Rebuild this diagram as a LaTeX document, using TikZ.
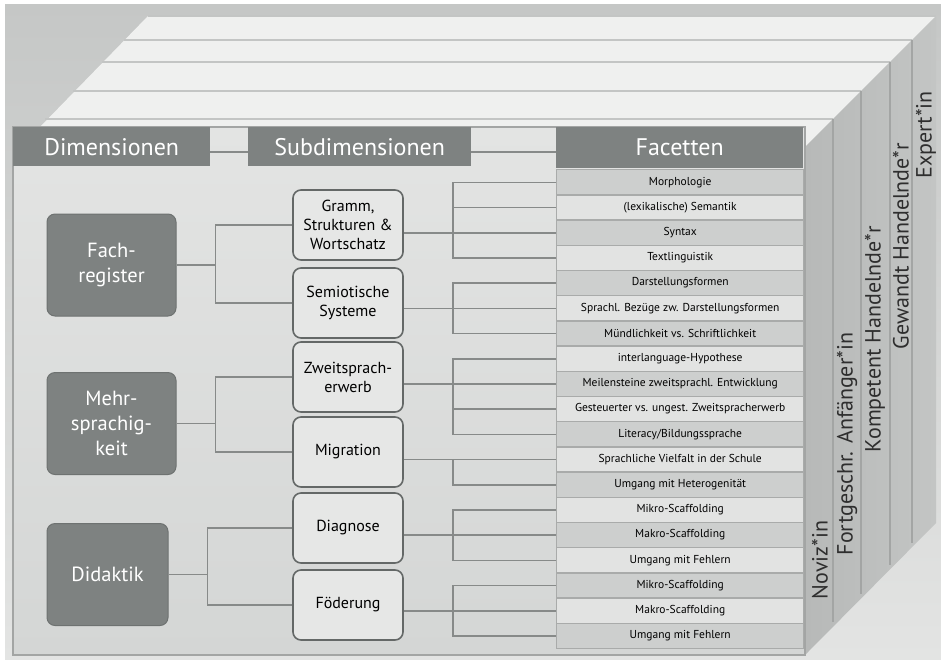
\documentclass[tikz,border=0pt]{standalone}
\usepackage{fontspec}
\setmainfont{PT Sans}
\usetikzlibrary{positioning,calc}

\definecolor{bgtop}{HTML}{C5C7C6}
\definecolor{bgbot}{HTML}{E3E4E3}
\definecolor{topface}{HTML}{EFF0EF}
\definecolor{topline}{HTML}{C3C5C4}
\definecolor{sidea}{HTML}{B7B9B8}
\definecolor{sideb}{HTML}{C3C5C4}
\definecolor{sideline}{HTML}{A3A5A4}
\definecolor{fronta}{HTML}{E3E4E3}
\definecolor{frontb}{HTML}{D4D6D5}
\definecolor{frontedge}{HTML}{A3A5A4}
\definecolor{boxdark}{HTML}{7E8281}
\definecolor{boxedge}{HTML}{6E7271}
\definecolor{boxlight}{HTML}{E6E7E6}
\definecolor{subedge}{HTML}{646867}
\definecolor{facetdark}{HTML}{CDCFCE}
\definecolor{facetlight}{HTML}{E2E3E2}
\definecolor{facetedge}{HTML}{A9ABAA}
\definecolor{conngray}{HTML}{878A89}
\definecolor{leveltext}{HTML}{2E2E2E}

\begin{document}
\begin{tikzpicture}[x=1pt, y=-1pt,
    dimbox/.style={rectangle, rounded corners=8pt, fill=boxdark, draw=boxedge,
      line width=1pt, text=white, align=center, inner sep=0pt,
      font=\fontsize{20.5}{25}\selectfont, minimum width=129pt, minimum height=102pt},
    subbox/.style={rectangle, rounded corners=8pt, fill=boxlight, draw=subedge,
      line width=1.6pt, align=center, inner sep=0pt,
      font=\fontsize{16}{19}\selectfont, minimum width=110pt, minimum height=70pt},
    headbar/.style={rectangle, fill=boxdark, text=white, inner sep=0pt,
      font=\fontsize{24}{26}\selectfont, minimum height=39pt, anchor=north west},
    facet0/.style={rectangle, fill=facetlight, draw=facetedge, line width=1.4pt,
      inner sep=0pt, minimum width=247pt, minimum height=25.2pt,
      font=\fontsize{11.5}{13}\selectfont, anchor=north west},
    facet1/.style={facet0, fill=facetdark},
    levellabel/.style={rotate=90, inner sep=0pt, text=leveltext,
      font=\fontsize{22}{24}\selectfont},
    conn/.style={draw=conngray, line width=1.6pt}]

  \useasboundingbox (0,0) rectangle (941,659);
  \fill[white] (0,0) rectangle (941,659);
  \shade[top color=bgtop, bottom color=bgbot] (5,4) rectangle (941,659);

  % the cube: top and side
  \fill[topface] (40,127) -- (148,16) -- (936,16) -- (805,147) -- (805,127) -- cycle;
  \draw[topline, line width=1.4pt] (148,16) -- (936,16);
  \foreach \y in {40,62,91,119}
    \draw[topline, line width=1.6pt] ({148-(\y-16)},\y) -- ({936-(\y-16)},\y);
  \shade[left color=sidea, right color=sideb] (805,147) -- (936,16) -- (936,523) -- (805,655) -- cycle;
  \foreach \x in {833,861,890,912}
    \draw[sideline, line width=1.2pt] (\x,{952-\x}) -- (\x,{650-(\x-805)});

  % front face
  \shade[top color=fronta, bottom color=frontb, draw=frontedge, line width=1.5pt]
    (13,127) rectangle (805,655);

  \node[headbar, minimum width=197pt] (dim) at (13,127) {Dimensionen};
  \node[headbar, minimum width=223pt] (subdim) at (248,127) {Subdimensionen};
  \node[headbar, minimum width=247pt, minimum height=41pt] (fac) at (556,127) {Facetten};
  \draw[conn] ([yshift=-5pt]dim.east) -- ([yshift=-5pt]subdim.west);
  \draw[conn] ([yshift=-5pt]subdim.east) -- ([yshift=-5pt]subdim.east -| fac.west);

  % facets
  \foreach \t [count=\i, evaluate=\i as \k using {int(mod(\i,2))}] in
    {Morphologie, {(lexikalische) Semantik}, Syntax, Textlinguistik,
     Darstellungsformen, {Sprachl. Bezüge zw. Darstellungsformen},
     {Mündlichkeit vs. Schriftlichkeit}, interlanguage-Hypothese,
     {Meilensteine zweitsprachl. Entwicklung},
     {Gesteuerter vs. ungest. Zweitspracherwerb}, {Literacy/Bildungssprache},
     {Sprachliche Vielfalt in der Schule}, {Umgang mit Heterogenität},
     Mikro-Scaffolding, Makro-Scaffolding, {Umgang mit Fehlern},
     Mikro-Scaffolding, Makro-Scaffolding, {Umgang mit Fehlern}}
    \node[facet\k] (f\i) at (556,{169+25.2*(\i-1)}) {\t};

  % dimensions and subdimensions
  \node[dimbox] (fach) at (111.5,265) {Fach-\\register};
  \node[dimbox] (mehr) at (111.5,423.5) {Mehr-\\sprachig-\\keit};
  \node[dimbox, minimum width=121pt] (dida) at (107.5,574.5) {Didaktik};

  \node[subbox] (gramm) at (348,225) {Gramm,\\Strukturen \&\\Wortschatz};
  \node[subbox] (semio) at (348,303) {Semiotische\\Systeme};
  \node[subbox] (zweit) at (348,377) {Zweitsprach-\\erwerb};
  \node[subbox] (migr) at (348,452) {Migration};
  \node[subbox] (diag) at (348,528) {Diagnose};
  \node[subbox] (foed) at (348,605) {Föderung};

  \foreach \d/\a/\b in {fach/gramm/semio, mehr/zweit/migr, dida/diag/foed} {
    \draw[conn] (\d.east) -- ++(39,0) coordinate (e\d);
    \draw[conn] (\a.west) -| (e\d) |- (\b.west);
  }

  \coordinate (bx) at (453,0);
  \foreach \s/\a/\m/\b in {gramm/1/3/4, semio/5/6/7, zweit/8/9/11,
      migr/12/12/13, diag/14/15/16, foed/17/18/19} {
    \draw[conn] (f\a.west) -| (bx |- f\b.west) -- (f\b.west);
    \draw[conn] (\s.east |- f\m.west) -- (f\m.west);
    \foreach \r in {\a,...,\b}
      \draw[conn] (bx |- f\r.west) -- (f\r.west);
  }

  % levels on the side
  \node[levellabel] (nov) at (820,560) {Noviz*in};
  \node[levellabel] (fort) at (847,444) {Fortgeschr. Anfänger*in};
  \node[levellabel] (komp) at (875,339) {Kompetent Handelnde*r};
  \node[levellabel] (gew) at (901,246) {Gewandt Handelnde*r};
  \node[levellabel] (expt) at (926,135) {Expert*in};
\end{tikzpicture}
\end{document}
